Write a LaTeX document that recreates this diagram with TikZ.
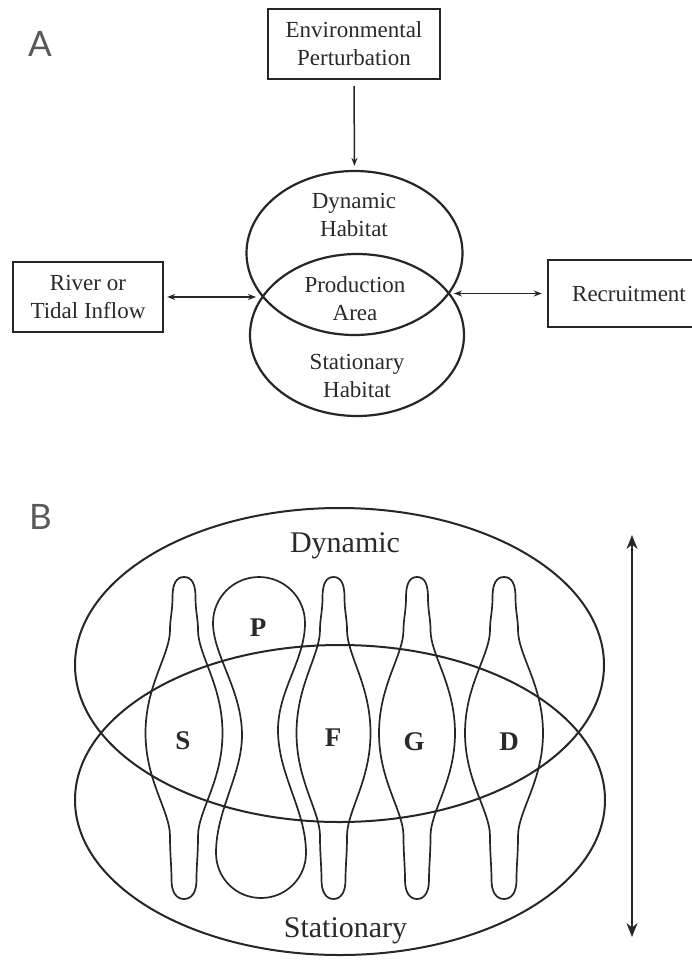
\documentclass[tikz,border=0pt]{standalone}
\usepackage{fontspec}
\setmainfont{Liberation Serif}
\newfontfamily\panelfont{Lato}
\usetikzlibrary{arrows.meta,shapes.geometric}
\definecolor{ink}{HTML}{262626}
\definecolor{txt}{HTML}{2a2a2a}
% #1 centre x, #2 stem half-width, #3 bulge half-width
\newcommand\drawlobe[3]{%
  \draw[blob] (#1,577)
    .. controls ({#1+0.6*#2},577) and ({#1+#2-1.5},584) .. ({#1+#2-1.5},597)
    .. controls ({#1+#2-1.5},612) and ({#1+#2+1},618) .. ({#1+#2+1},630)
    .. controls ({#1+#2+1},655) and ({#1+#3},685) .. ({#1+#3},733)
    .. controls ({#1+#3},781) and ({#1+#2+1},811) .. ({#1+#2+1},836)
    .. controls ({#1+#2+1},855) and ({#1+#2-0.5},865) .. ({#1+#2-0.5},880)
    .. controls ({#1+#2-0.5},892) and ({#1+0.6*#2},899) .. (#1,899)
    .. controls ({#1-0.6*#2},899) and ({#1-#2+0.5},892) .. ({#1-#2+0.5},880)
    .. controls ({#1-#2+0.5},865) and ({#1-#2-1},855) .. ({#1-#2-1},836)
    .. controls ({#1-#2-1},811) and ({#1-#3},781) .. ({#1-#3},733)
    .. controls ({#1-#3},685) and ({#1-#2-1},655) .. ({#1-#2-1},630)
    .. controls ({#1-#2-1},618) and ({#1-#2+1.5},612) .. ({#1-#2+1.5},597)
    .. controls ({#1-#2+1.5},584) and ({#1-0.6*#2},577) .. (#1,577) -- cycle;}
\begin{document}
\begin{tikzpicture}[x=1pt,y=-1pt,
  boxnode/.style={draw=ink, line width=2.4pt, align=center, text=txt,
    font=\fontsize{23}{28}\selectfont, inner sep=0pt},
  ringA/.style={ellipse, draw=ink, line width=2.2pt, inner sep=0pt},
  ringB/.style={ellipse, draw=ink, line width=2.0pt, inner sep=0pt},
  txtA/.style={align=center, text=txt, font=\fontsize{23}{28}\selectfont, inner sep=0pt},
  txtB/.style={text=txt, font=\fontsize{30}{36}\selectfont, inner sep=0pt},
  letter/.style={text=txt, font=\bfseries\fontsize{27}{30}\selectfont, inner sep=0pt},
  panel/.style={text=black!65, font=\panelfont\fontsize{35}{35}\selectfont, inner sep=0pt},
  smallarrow/.style={draw=ink, line width=1.5pt, -{Stealth[length=8pt,width=6pt]}},
  biarrow/.style={draw=ink, line width=1.5pt, {Stealth[length=8pt,width=6pt]}-{Stealth[length=8pt,width=6pt]}},
  bigarrow/.style={draw=ink, line width=1.8pt, {Stealth[length=14pt,width=11pt]}-{Stealth[length=14pt,width=11pt]}},
  blob/.style={draw=ink, line width=1.7pt}
]
\useasboundingbox (0,0) rectangle (691,960);
\fill[white] (0,0) rectangle (691,960);

% ---------- Panel A ----------
\node[panel] (labA) at (40,43.5) {A};
\node[boxnode, minimum width=172pt, minimum height=70pt] (env) at (354,44) {Environmental\\Perturbation};
\node[boxnode, minimum width=150pt, minimum height=70pt] (river) at (88,297) {River or\\Tidal Inflow};
\node[boxnode, minimum width=162pt, minimum height=67pt] (recr) at (629,293.5) {Recruitment};

\node[ringA, minimum width=216pt, minimum height=164pt] (dyn) at (354.5,253) {};
\node[ringA, minimum width=214pt, minimum height=162pt] (sta) at (357,335) {};

\node[txtA] (dyntxt) at (354,215) {Dynamic\\Habitat};
\node[txtA] (prodtxt) at (355,298.5) {Production\\Area};
\node[txtA] (statxt) at (357,375.5) {Stationary\\Habitat};

\coordinate (leftX) at (256,297);
\coordinate (rightX) at (454,293.5);
\draw[smallarrow, shorten <=6pt, shorten >=4pt] (env.south) -- (dyn.north);
\draw[biarrow] ([xshift=3pt]river.east) -- (leftX);
\draw[biarrow] (rightX) -- ([xshift=-5pt]recr.west);

% ---------- Panel B ----------
\node[panel] (labB) at (40.5,516.5) {B};
\node[ringB, minimum width=529pt, minimum height=314pt] (dynB) at (339.5,665) {};
\node[ringB, minimum width=530pt, minimum height=310pt] (staB) at (340,800) {};

\drawlobe{184}{13}{38.5}
\drawlobe{333.5}{12.5}{37}
\drawlobe{417}{12.5}{38}
\drawlobe{504}{13}{39}
\draw[blob] (259,577)
  .. controls (284,577) and (305,597) .. (305,623)
  .. controls (305,660) and (278,690) .. (278,730)
  .. controls (278,775) and (306,810) .. (306,853)
  .. controls (306,878) and (286,898) .. (261,898)
  .. controls (236,898) and (216,878) .. (216,853)
  .. controls (216,810) and (242,775) .. (242,735)
  .. controls (242,690) and (213,655) .. (213,623)
  .. controls (213,597) and (234,577) .. (259,577) -- cycle;

\node[txtB, anchor=base] (dynBtxt) at (345,552) {Dynamic};
\node[txtB, anchor=base] (staBtxt) at (345.5,937) {Stationary};

\node[letter] (S) at (183,741) {S};
\node[letter] (P) at (258,628) {P};
\node[letter] (F) at (333,738) {F};
\node[letter] (G) at (414,742) {G};
\node[letter] (D) at (509,742) {D};

\coordinate (vtop) at (632,535);
\coordinate (vbot) at (632,937);
\draw[bigarrow] (vtop) -- (vbot);
\end{tikzpicture}
\end{document}
